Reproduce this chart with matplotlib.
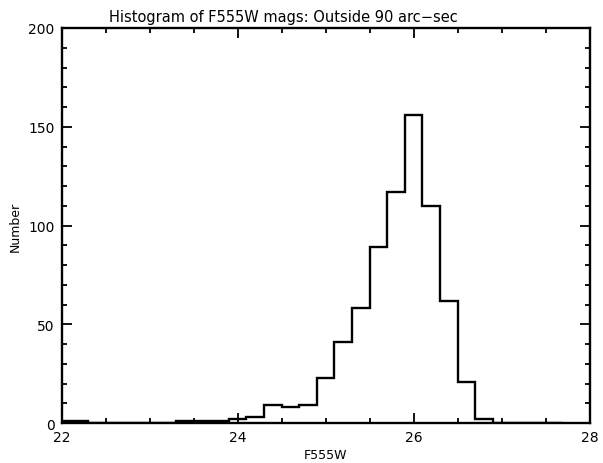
import matplotlib.pyplot as plt
import numpy as np
from matplotlib.ticker import MultipleLocator

# bin centres (width 0.2) and counts
bin_centers = np.round(np.arange(22.0, 27.61, 0.2), 1)
counts = [1, 1, 0, 0, 0, 0, 0, 1, 1, 1,
          2, 3, 9, 8, 9, 23, 41, 58, 89, 117,
          156, 110, 62, 21, 2, 0, 0, 0, 0]

title = "Histogram of F555W mags: Outside 90 arc\u2212sec"
xlabel = "F555W"
ylabel = "Number"

plt.rcParams['font.family'] = ['DejaVu Sans']

fig = plt.figure(figsize=(6.03, 4.64), dpi=100)
ax = fig.add_axes([0.1023, 0.0862, 0.8756, 0.8513])

edges = np.append(bin_centers - 0.1, bin_centers[-1] + 0.1)
ax.stairs(counts, edges, color='black', linewidth=1.7, baseline=None)

ax.set_xlim(22, 28)
ax.set_ylim(0, 200)
ax.xaxis.set_major_locator(MultipleLocator(2))
ax.xaxis.set_minor_locator(MultipleLocator(0.5))
ax.yaxis.set_major_locator(MultipleLocator(50))
ax.yaxis.set_minor_locator(MultipleLocator(10))
ax.tick_params(which='both', direction='in', top=True, right=True,
               width=1.3, labelsize=10, pad=5)
ax.tick_params(which='major', length=7)
ax.tick_params(which='minor', length=3.5)
for s in ax.spines.values():
    s.set_linewidth(1.7)

ax.set_title(title, fontsize=10.5, pad=5, x=0.42)
ax.set_xlabel(xlabel, fontsize=9, labelpad=3)
ax.set_ylabel(ylabel, fontsize=9, labelpad=5)

fig.savefig('out.png', dpi=100)
